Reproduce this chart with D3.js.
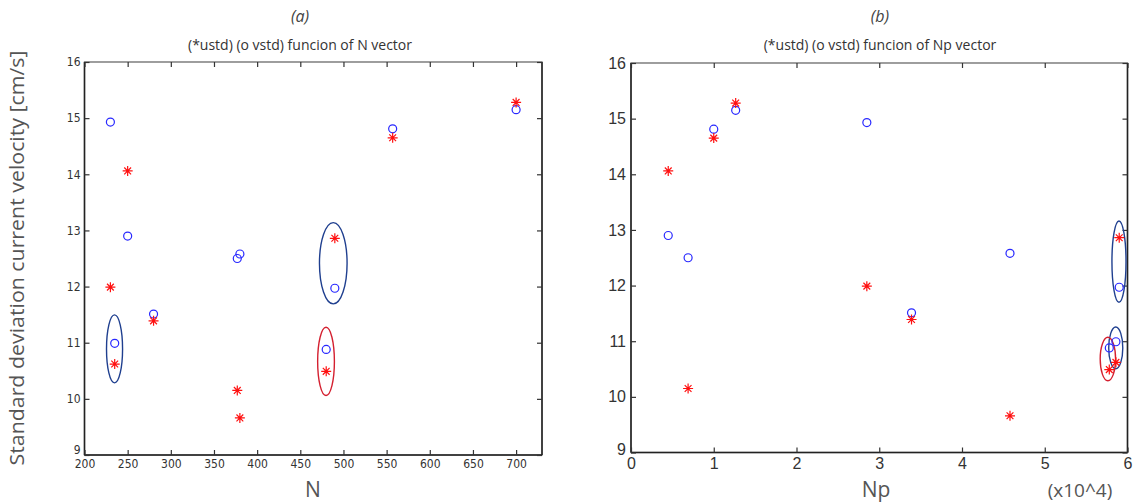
<!DOCTYPE html>
<html><head><meta charset="utf-8">
<script src="https://cdn.jsdelivr.net/npm/d3@7"></script>
<style>body{margin:0;background:#fff}svg{display:block}</style>
</head><body>
<svg id="c" width="1137" height="503"></svg>
<script>
// ---- data ----
const N      = [230, 235, 250, 280, 377, 380, 480, 490, 557, 700];
const Np     = [2.85, 5.86, 0.45, 3.39, 0.69, 4.58, 5.78, 5.90, 1.00, 1.265]; // x10^4
const ustd   = [11.99, 10.62, 14.06, 11.39, 10.15, 9.66, 10.49, 12.86, 14.65, 15.28];
const vstd   = [14.93, 10.99, 12.90, 11.51, 12.50, 12.58, 10.88, 11.97, 14.81, 15.15];
const ticksN  = [200, 250, 300, 350, 400, 450, 500, 550, 600, 650, 700];
const ticksNp = [0, 1, 2, 3, 4, 5, 6];
const ticksY  = [9, 10, 11, 12, 13, 14, 15, 16];
// highlighted groups: [cx, cy, rx, ry, colour]
const ellipsesA = [[234.8, 10.89, 9.3, 0.605, "#1f3f8f"], [488.2, 12.415, 16, 0.724, "#1f3f8f"], [479.8, 10.667, 9.7, 0.608, "#d42030"]];
const ellipsesB = [[5.897, 12.43, 0.085, 0.73, "#1f3f8f"], [5.858, 10.88, 0.085, 0.375, "#1f3f8f"], [5.763, 10.68, 0.093, 0.39, "#d42030"]];

const svg = d3.select("#c");
const font = "'Open Sans', 'Noto Sans', sans-serif";

function panel(o) {
  const g = svg.append("g");
  const x = d3.scaleLinear().domain(o.xd).range(o.xr);
  const y = d3.scaleLinear().domain([9, 16]).range(o.yr);
  const [x0, x1] = o.xr, [y0, y1] = o.yr;
  const fmt = d3.format("d");
  // frame
  g.append("rect").attr("x", x0).attr("y", y1).attr("width", x1 - x0).attr("height", y0 - y1)
    .attr("fill", "none").attr("stroke", "#6a6a6a").attr("stroke-width", 1.3);
  g.append("line").attr("x1", x0).attr("x2", x0).attr("y1", y1).attr("y2", y0).attr("stroke", "#222").attr("stroke-width", 1.5);
  g.append("line").attr("x1", x0).attr("x2", x1).attr("y1", y0).attr("y2", y0).attr("stroke", "#222").attr("stroke-width", 1.5);
  g.append("line").attr("x1", x1).attr("x2", x1).attr("y1", y1).attr("y2", y0).attr("stroke", "#222").attr("stroke-width", 1.5);
  // axes
  const ax = g.append("g").attr("transform", `translate(0,${y0})`)
    .call(d3.axisBottom(x).tickValues(o.xt).tickFormat(fmt).tickSizeInner(-5).tickSizeOuter(0).tickPadding(o.xpad));
  const axTop = g.append("g").attr("transform", `translate(0,${y1})`)
    .call(d3.axisTop(x).tickValues(o.xt).tickSizeInner(-5).tickSizeOuter(0).tickFormat(""));
  const ay = g.append("g").attr("transform", `translate(${x0},0)`)
    .call(d3.axisLeft(y).tickValues(ticksY).tickFormat(fmt).tickSizeInner(-5).tickSizeOuter(0).tickPadding(o.ypad));
  const ayR = g.append("g").attr("transform", `translate(${x1},0)`)
    .call(d3.axisRight(y).tickValues(ticksY).tickSizeInner(-5).tickSizeOuter(0).tickFormat(""));
  [ax, axTop, ay, ayR].forEach(a => {
    a.select(".domain").remove();
    a.selectAll(".tick line").attr("stroke", "#333").attr("stroke-width", 1.2);
    a.selectAll("text").attr("fill", "#333").attr("font-family", o.tickFont).attr("font-size", o.tickSize);
  });
  // lowest y label sits slightly above the corner, as in the reference
  ay.selectAll(".tick").filter(d => d === 9).select("text").attr("dy", o.dy9);
  // ellipses
  g.selectAll("ellipse.h").data(o.ell).join("ellipse")
    .attr("cx", d => x(d[0])).attr("cy", d => y(d[1]))
    .attr("rx", d => Math.abs(x(d[0] + d[2]) - x(d[0])))
    .attr("ry", d => Math.abs(y(d[1] + d[3]) - y(d[1])))
    .attr("fill", "none").attr("stroke", d => d[4]).attr("stroke-width", 1.4);
  // circles (vstd)
  const idx = d3.range(o.xs.length);
  g.selectAll("circle.v").data(idx).join("circle")
    .attr("cx", i => x(o.xs[i])).attr("cy", i => y(vstd[i])).attr("r", 4)
    .attr("fill", "none").attr("stroke", "#2828ff").attr("stroke-width", 1.2);
  // stars (ustd)
  const s = 5, d2 = 3.4;
  const star = g.selectAll("g.u").data(idx).join("g")
    .attr("transform", i => `translate(${x(o.xs[i])},${y(ustd[i])})`);
  star.append("path")
    .attr("d", `M${-s},0H${s}M0,${-s}V${s}M${-d2},${-d2}L${d2},${d2}M${-d2},${d2}L${d2},${-d2}`)
    .attr("stroke", "#ff1010").attr("stroke-width", 1.2).attr("fill", "none");
  // titles
  g.append("text").attr("x", o.tcx).attr("y", 22).attr("text-anchor", "middle")
    .attr("font-family", font).attr("font-style", "italic").attr("font-size", 16).attr("fill", "#444").text(o.letter);
  g.append("text").attr("x", o.tcx).attr("y", 50).attr("text-anchor", "middle")
    .attr("font-family", font).attr("font-size", 14).attr("fill", "#333").text(o.title);
  return {x, y};
}

panel({
  xd: [200, 730], xr: [84.5, 542], yr: [455, 62], xt: ticksN, xs: N, ell: ellipsesA,
  tickFont: "'Liberation Sans Narrow', 'DejaVu Sans Condensed', sans-serif", tickSize: 12, xpad: 4, ypad: 4, dy9: "-0.15em",
  tcx: 300, letter: "(a)", title: "(*ustd) (o vstd) funcion of N vector"
});
panel({
  xd: [0, 6], xr: [631, 1127.5], yr: [452.5, 63], xt: ticksNp, xs: Np, ell: ellipsesB,
  tickFont: "'Liberation Sans', Arial, sans-serif", tickSize: 16, xpad: 5, ypad: 5, dy9: "0.1em",
  tcx: 880, letter: "(b)", title: "(*ustd) (o vstd) funcion of Np vector"
});

// axis labels
svg.append("text").attr("transform", "translate(24,258) rotate(-90)").attr("text-anchor", "middle")
  .attr("font-family", font).attr("font-size", 20).attr("fill", "#555")
  .attr("textLength", 415).attr("lengthAdjust", "spacingAndGlyphs")
  .text("Standard deviation current  velocity [cm/s]");
svg.append("text").attr("x", 313).attr("y", 497).attr("text-anchor", "middle")
  .attr("font-family", font).attr("font-size", 21).attr("fill", "#555").text("N");
svg.append("text").attr("x", 876).attr("y", 497).attr("text-anchor", "middle")
  .attr("font-family", font).attr("font-size", 21).attr("fill", "#555").text("Np");
svg.append("text").attr("x", 1080).attr("y", 497).attr("text-anchor", "middle")
  .attr("font-family", font).attr("font-size", 19).attr("fill", "#555").text("(x10^4)");
</script>
</body></html>
